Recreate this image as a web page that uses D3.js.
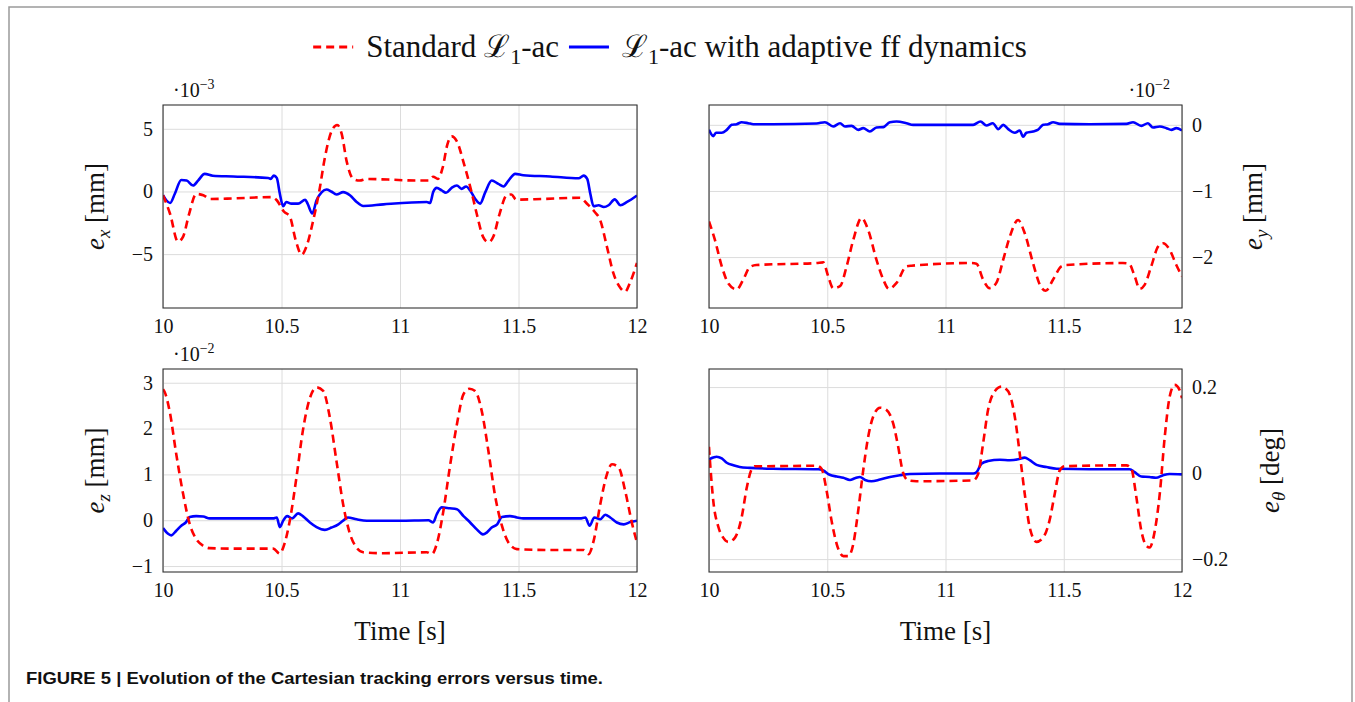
<!DOCTYPE html>
<html lang="en">
<head>
<meta charset="utf-8">
<title>Cartesian tracking errors</title>
<script src="https://d3js.org/d3.v7.min.js"></script>
<style>
  body { margin: 0; background: #fff; }
</style>
</head>
<body>
<script>

// x axis (time, s)
var timeTicks = [10, 10.5, 11, 11.5, 12];

// e_x in 1e-3 mm  [t, value]
var exStandard = [[10,-0.3],[10.03,-1.8],[10.063,-4.0],[10.085,-3.6],[10.11,-1.8],[10.14,-0.2],[10.17,-0.3],[10.2,-0.6],
  [10.3,-0.55],[10.46,-0.45],[10.48,-0.7],[10.51,-1.6],[10.535,-2.0],[10.56,-3.9],[10.585,-5.05],[10.605,-4.4],
  [10.634,-2.3],[10.66,0.1],[10.683,2.7],[10.711,4.8],[10.735,5.3],[10.754,4.6],[10.775,2.4],[10.803,1.0],[10.83,0.87],
  [10.86,1.0],[10.95,0.95],[11.07,0.87],[11.12,0.87],[11.14,1.18],[11.16,1.0],[11.18,1.9],[11.2,3.76],[11.218,4.4],
  [11.24,4.0],[11.27,2.2],[11.3,0.1],[11.324,-1.8],[11.35,-3.6],[11.373,-4.05],[11.394,-3.6],[11.42,-1.8],[11.45,-0.3],
  [11.47,-0.24],[11.49,-0.65],[11.6,-0.6],[11.76,-0.5],[11.79,-1.0],[11.82,-1.6],[11.845,-2.3],[11.873,-4.4],[11.9,-6.5],
  [11.93,-7.7],[11.95,-8.0],[11.97,-7.3],[12,-5.7]];
var exAdaptive = [[10,-0.3],[10.014,-0.7],[10.03,-0.92],[10.05,-0.18],[10.077,0.92],[10.1,0.87],[10.127,0.47],[10.148,0.87],
  [10.176,1.4],[10.21,1.26],[10.296,1.2],[10.444,1.08],[10.454,1.0],[10.468,1.26],[10.48,1.08],[10.493,-0.18],[10.507,-1.18],
  [10.52,-0.84],[10.542,-0.97],[10.57,-0.97],[10.6,-0.66],[10.61,-0.97],[10.63,-1.76],[10.648,-0.7],[10.67,-0.05],[10.69,0.16],
  [10.71,0.0],[10.732,-0.24],[10.76,-0.05],[10.79,-0.32],[10.817,-0.84],[10.845,-1.16],[10.93,-1.03],[11.113,-0.84],
  [11.127,-0.92],[11.14,-0.05],[11.155,0.29],[11.176,0.08],[11.194,-0.1],[11.218,0.29],[11.24,0.47],[11.26,0.21],[11.279,0.4],
  [11.296,0.08],[11.317,-0.58],[11.338,-0.97],[11.36,-0.05],[11.387,0.87],[11.415,0.6],[11.437,0.4],[11.458,0.87],[11.486,1.4],
  [11.52,1.3],[11.634,1.2],[11.754,1.05],[11.775,1.26],[11.79,1.0],[11.803,-0.18],[11.817,-1.18],[11.838,-1.1],[11.86,-1.24],
  [11.88,-1.1],[11.906,-0.63],[11.93,-1.1],[11.958,-0.84],[12,-0.32]];
var exTicks = [-5, 0, 5];

// e_y in 1e-2 mm
var eyStandard = [[10,-1.46],[10.025,-1.74],[10.054,-2.14],[10.082,-2.40],[10.117,-2.49],[10.145,-2.34],[10.173,-2.15],
  [10.2,-2.12],[10.455,-2.09],[10.483,-2.08],[10.504,-2.29],[10.525,-2.47],[10.554,-2.44],[10.582,-2.14],[10.61,-1.74],
  [10.645,-1.41],[10.673,-1.59],[10.708,-2.04],[10.737,-2.34],[10.76,-2.48],[10.793,-2.39],[10.835,-2.14],[10.856,-2.13],
  [11.11,-2.09],[11.131,-2.1],[11.159,-2.34],[11.187,-2.47],[11.215,-2.39],[11.244,-2.04],[11.272,-1.69],[11.307,-1.44],
  [11.335,-1.64],[11.37,-2.09],[11.399,-2.42],[11.424,-2.51],[11.455,-2.34],[11.49,-2.14],[11.511,-2.12],[11.75,-2.09],
  [11.776,-2.1],[11.8,-2.29],[11.821,-2.48],[11.842,-2.42],[11.87,-2.14],[11.899,-1.84],[11.92,-1.79],[11.948,-1.89],
  [11.976,-2.12],[12,-2.29]];
var eyAdaptive = [[10,-0.076],[10.018,-0.17],[10.03,-0.12],[10.054,-0.12],[10.075,-0.076],[10.096,0],[10.117,0.01],
  [10.138,0.04],[10.166,0.025],[10.187,0.01],[10.27,0.01],[10.455,0.02],[10.49,0.04],[10.525,-0.025],[10.554,0.025],
  [10.575,-0.025],[10.603,-0.015],[10.631,-0.076],[10.652,-0.05],[10.68,-0.1],[10.708,-0.04],[10.737,-0.035],[10.765,0.04],
  [10.793,0.05],[10.835,0.025],[10.863,0],[11.046,0],[11.117,0],[11.148,0.05],[11.173,-0.01],[11.2,0.025],[11.223,-0.065],
  [11.244,0],[11.265,-0.065],[11.293,-0.12],[11.314,-0.085],[11.328,-0.18],[11.342,-0.12],[11.37,-0.1],[11.39,-0.076],
  [11.413,0],[11.434,0.01],[11.455,0.04],[11.483,0.015],[11.61,0.01],[11.765,0.015],[11.793,0.04],[11.828,-0.015],
  [11.856,0.025],[11.877,-0.04],[11.906,-0.025],[11.934,-0.05],[11.955,-0.076],[11.976,-0.05],[12,-0.085]];
var eyTicks = [-2, -1, 0];

// e_z in 1e-2 mm
var ezStandard = [[10,2.86],[10.007,2.8],[10.028,2.38],[10.056,1.44],[10.085,0.57],[10.113,-0.09],[10.14,-0.41],[10.17,-0.56],
  [10.197,-0.61],[10.296,-0.62],[10.465,-0.62],[10.493,-0.73],[10.507,-0.6],[10.535,-0.01],[10.563,0.93],[10.59,1.95],
  [10.62,2.67],[10.648,2.9],[10.676,2.82],[10.704,2.24],[10.732,1.29],[10.76,0.35],[10.789,-0.3],[10.817,-0.6],[10.845,-0.7],
  [10.93,-0.72],[11.113,-0.7],[11.134,-0.74],[11.155,-0.52],[11.183,0.2],[11.21,1.15],[11.24,2.09],[11.268,2.75],
  [11.293,2.87],[11.317,2.82],[11.345,2.38],[11.373,1.51],[11.4,0.57],[11.43,-0.12],[11.458,-0.49],[11.493,-0.63],
  [11.634,-0.65],[11.775,-0.65],[11.796,-0.74],[11.817,-0.45],[11.845,0.35],[11.873,1.0],[11.894,1.22],[11.923,1.15],
  [11.95,0.64],[11.98,-0.09],[12,-0.49]];
var ezAdaptive = [[10,-0.17],[10.02,-0.29],[10.035,-0.33],[10.056,-0.23],[10.077,-0.12],[10.096,-0.05],[10.113,0.07],
  [10.14,0.09],[10.17,0.08],[10.197,0.04],[10.366,0.04],[10.465,0.04],[10.48,0.06],[10.493,-0.15],[10.507,-0.01],
  [10.524,0.09],[10.545,0.04],[10.57,0.15],[10.59,0.09],[10.62,-0.05],[10.648,-0.15],[10.683,-0.21],[10.711,-0.16],
  [10.74,-0.09],[10.76,-0.01],[10.78,0.06],[10.817,0.02],[10.86,-0.01],[11.0,-0.01],[11.12,0],[11.14,-0.05],[11.155,0.13],
  [11.176,0.28],[11.21,0.26],[11.24,0.24],[11.268,0.09],[11.296,-0.05],[11.324,-0.2],[11.35,-0.31],[11.366,-0.27],
  [11.387,-0.16],[11.41,-0.09],[11.43,0.07],[11.465,0.09],[11.493,0.06],[11.52,0.04],[11.76,0.04],[11.782,0.06],
  [11.8,-0.12],[11.82,0.06],[11.845,0.02],[11.866,0.12],[11.887,0.06],[11.915,-0.05],[11.944,-0.09],[11.972,-0.04],[12,-0.01]];
var ezTicks = [-1, 0, 1, 2, 3];

// e_theta in deg
var ethStandard = [[10,0.061],[10.007,0.006],[10.018,-0.064],[10.04,-0.126],[10.06,-0.15],[10.082,-0.16],[10.11,-0.15],
  [10.138,-0.103],[10.16,-0.033],[10.178,0.006],[10.194,0.016],[10.244,0.016],[10.455,0.017],[10.476,0.01],[10.497,-0.04],
  [10.518,-0.11],[10.54,-0.165],[10.568,-0.193],[10.589,-0.193],[10.61,-0.165],[10.631,-0.087],[10.652,0.006],[10.673,0.084],
  [10.694,0.131],[10.723,0.152],[10.75,0.147],[10.779,0.115],[10.8,0.061],[10.82,0.002],[10.842,-0.017],[10.877,-0.019],
  [11.117,-0.017],[11.138,-0.002],[11.159,0.069],[11.18,0.147],[11.208,0.19],[11.237,0.201],[11.265,0.19],[11.293,0.131],
  [11.314,0.045],[11.335,-0.048],[11.356,-0.126],[11.385,-0.16],[11.413,-0.15],[11.44,-0.11],[11.462,-0.048],[11.483,0.006],
  [11.504,0.016],[11.765,0.018],[11.786,0.01],[11.807,-0.056],[11.828,-0.134],[11.849,-0.169],[11.863,-0.173],[11.885,-0.134],
  [11.906,-0.048],[11.927,0.084],[11.948,0.178],[11.969,0.205],[11.99,0.193],[12,0.174]];
var ethAdaptive = [[10,0.032],[10.018,0.036],[10.032,0.038],[10.054,0.034],[10.075,0.024],[10.103,0.018],[10.13,0.014],
  [10.173,0.012],[10.27,0.01],[10.462,0.009],[10.483,0.006],[10.51,-0.004],[10.54,-0.008],[10.568,-0.011],[10.596,-0.016],
  [10.617,-0.012],[10.638,-0.009],[10.66,-0.016],[10.687,-0.019],[10.723,-0.015],[10.765,-0.009],[10.807,-0.005],
  [10.85,-0.002],[10.976,-0.001],[11.117,-0.001],[11.131,0.002],[11.152,0.022],[11.18,0.028],[11.23,0.031],[11.272,0.03],
  [11.307,0.032],[11.335,0.036],[11.356,0.03],[11.385,0.019],[11.427,0.014],[11.47,0.01],[11.61,0.009],[11.779,0.009],
  [11.8,0.002],[11.828,-0.008],[11.863,-0.009],[11.89,-0.011],[11.92,-0.005],[11.948,-0.002],[12,-0.003]];
var ethTicks = [-0.2, 0, 0.2];

var W = 1355, H = 702;
var red = "#ff0000", blue = "#0000ff";
var serif = "'Liberation Serif', 'Times New Roman', Times, serif";

var svg = d3.select("body").append("svg")
    .attr("width", W)
    .attr("height", H);

// outer page frame
svg.append("rect")
    .attr("x", 9).attr("y", 7)
    .attr("width", 1343).attr("height", 720)
    .attr("fill", "none")
    .attr("stroke", "#9a9a9a")
    .attr("stroke-width", 1.5);

var panels = [
  {id: "ex", x0: 163, x1: 637, y0: 105, y1: 308, domain: [-9.3, 6.9], ticks: exTicks, timeLabel: false,
   std: exStandard, ada: exAdaptive, side: "left", sub: "x", unit: " [mm]", exp: "−3", labelX: 104},
  {id: "ey", x0: 709, x1: 1182, y0: 105, y1: 308, domain: [-2.77, 0.3], ticks: eyTicks, timeLabel: false,
   std: eyStandard, ada: eyAdaptive, side: "right", sub: "y", unit: " [mm]", exp: "−2", labelX: 1262},
  {id: "ez", x0: 163, x1: 637, y0: 369, y1: 572, domain: [-1.13, 3.3], ticks: ezTicks, timeLabel: true,
   std: ezStandard, ada: ezAdaptive, side: "left", sub: "z", unit: " [mm]", exp: "−2", labelX: 104},
  {id: "eth", x0: 709, x1: 1182, y0: 369, y1: 572, domain: [-0.23, 0.242], ticks: ethTicks, timeLabel: true,
   std: ethStandard, ada: ethAdaptive, side: "right", sub: "θ", unit: " [deg]", exp: null, labelX: 1279}
];

function fmt(v) {
  return (v < 0 ? "−" : "") + Math.abs(v);
}

panels.forEach(function(p) {
  var w = p.x1 - p.x0, h = p.y1 - p.y0;
  var x = d3.scaleLinear().domain([10, 12]).range([0, w]);
  var y = d3.scaleLinear().domain(p.domain).range([h, 0]);

  var g = svg.append("g").attr("transform", "translate(" + p.x0 + "," + p.y0 + ")");

  g.append("clipPath").attr("id", "clip-" + p.id)
    .append("rect").attr("width", w).attr("height", h);

  // x axis with grid
  var xa = g.append("g")
      .attr("transform", "translate(0," + h + ")")
      .call(d3.axisBottom(x).tickValues(timeTicks).tickFormat(fmt)
            .tickSizeInner(-h).tickSizeOuter(0).tickPadding(11));
  // y axis with grid
  var ya = g.append("g")
      .attr("transform", p.side == "left" ? "translate(0,0)" : "translate(" + w + ",0)")
      .call((p.side == "left" ? d3.axisLeft(y) : d3.axisRight(y)).tickValues(p.ticks).tickFormat(fmt)
            .tickSizeInner(-w).tickSizeOuter(0).tickPadding(10));

  [xa, ya].forEach(function(a) {
    a.attr("font-family", null).attr("font-size", null);
    a.select(".domain").remove();
    a.selectAll(".tick line").attr("stroke", "#dcdcdc").attr("stroke-width", 1);
    a.selectAll(".tick text")
      .style("font-family", serif)
      .style("font-size", "20px")
      .attr("fill", "#111");
  });

  var line = d3.line()
      .x(function(d) { return x(d[0]); })
      .y(function(d) { return y(d[1]); })
      .curve(d3.curveMonotoneX);

  var plot = g.append("g").attr("clip-path", "url(#clip-" + p.id + ")");
  plot.append("path")
      .datum(p.ada)
      .attr("d", line)
      .attr("fill", "none")
      .attr("stroke", blue)
      .attr("stroke-width", 2.6)
      .attr("stroke-linejoin", "round");
  plot.append("path")
      .datum(p.std)
      .attr("d", line)
      .attr("fill", "none")
      .attr("stroke", red)
      .attr("stroke-width", 2.6)
      .attr("stroke-dasharray", "8,5");

  // axis box
  g.append("rect")
      .attr("width", w).attr("height", h)
      .attr("fill", "none")
      .attr("stroke", "#333")
      .attr("stroke-width", 1.1);

  // Time label (bottom row only)
  if (p.timeLabel) {
    g.append("text")
        .attr("x", w / 2).attr("y", h + 68)
        .attr("text-anchor", "middle")
        .style("font-family", serif)
        .style("font-size", "27px")
        .attr("fill", "#111")
        .text("Time [s]");
  }

  // y label, rotated
  var cy = p.y0 + h / 2;
  var lab = svg.append("text")
      .attr("transform", "translate(" + p.labelX + "," + cy + ") rotate(-90)")
      .attr("text-anchor", "middle")
      .style("font-family", serif)
      .style("font-size", "27px")
      .attr("fill", "#111");
  lab.append("tspan").attr("font-style", "italic").text("e");
  lab.append("tspan").attr("font-style", "italic").style("font-size", "19px").attr("dy", 6).text(p.sub);
  lab.append("tspan").attr("dy", -6).text(p.unit);

  // exponent marker
  if (p.exp) {
    var ex = svg.append("text")
        .attr("x", p.side == "left" ? p.x0 + 10 : p.x1 - 12)
        .attr("y", p.y0 - 8)
        .attr("text-anchor", p.side == "left" ? "start" : "end")
        .style("font-family", serif)
        .style("font-size", "20px")
        .attr("fill", "#111");
    ex.append("tspan").text("·10");
    ex.append("tspan").style("font-size", "14px").attr("dy", -8).text(p.exp);
  }
});

// legend
var leg = svg.append("g");
var cur = 0, legY = 47;
var items = [
  {color: red, dash: "8,5", pre: "Standard ", post: "-ac"},
  {color: blue, dash: null, pre: "", post: "-ac with adaptive ff dynamics"}
];
items.forEach(function(it, i) {
  leg.append("line")
      .attr("x1", cur).attr("x2", cur + 40)
      .attr("y1", legY).attr("y2", legY)
      .attr("stroke", it.color)
      .attr("stroke-width", 2.8)
      .attr("stroke-dasharray", it.dash);
  cur += 53;
  var t = leg.append("text")
      .attr("x", cur).attr("y", legY + 10)
      .style("font-family", serif)
      .style("font-size", "31px")
      .attr("fill", "#111");
  t.append("tspan").text(it.pre + "ℒ");
  t.append("tspan").style("font-size", "22px").attr("dy", 7).text("1");
  t.append("tspan").attr("dy", -7).text(it.post);
  cur += t.node().getComputedTextLength() + 10;
});
var legW = cur - 10;
leg.attr("transform", "translate(" + (670 - legW / 2) + ",0)");

// caption
svg.append("text")
    .attr("x", 26).attr("y", 684)
    .style("font-family", "'Liberation Sans', Arial, sans-serif")
    .style("font-weight", "bold")
    .style("font-size", "17px")
    .attr("textLength", 577)
    .attr("lengthAdjust", "spacingAndGlyphs")
    .attr("fill", "#111")
    .text("FIGURE 5 | Evolution of the Cartesian tracking errors versus time.");

</script>
</body>
</html>
